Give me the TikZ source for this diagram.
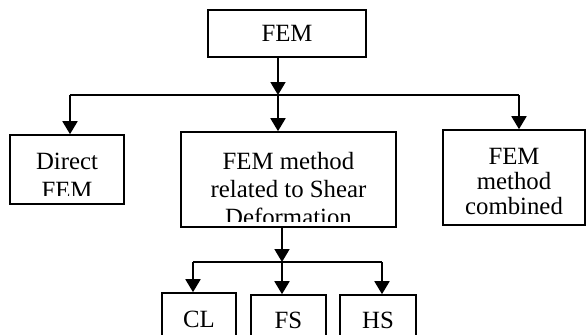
\documentclass[tikz,border=0pt]{standalone}
\usepackage{fontspec}
\setmainfont{Liberation Serif}
\usetikzlibrary{arrows.meta}

\begin{document}
\begin{tikzpicture}[x=0.5pt, y=-0.5pt,
    box/.style={draw, line width=0.8pt, inner sep=0pt},
    txt/.style={align=center, inner sep=0pt, font=\fontsize{12.4}{13}\selectfont},
    link/.style={line width=0.9pt},
    arr/.style={link, -{Triangle[width=7.5pt, length=6.5pt]}}]
    \useasboundingbox (0,0) rectangle (586,334);
    \clip (0,0) rectangle (586,334);
    \node[box, txt, minimum width=79pt, minimum height=23.5pt] (fem) at (287,33.5) {FEM};
    \node[box, minimum width=57pt, minimum height=34.5pt] (direct) at (67,169.5) {};
    \node[box, minimum width=107.5pt, minimum height=47.5pt] (shear) at (288.5,179.5) {};
    \node[box, minimum width=71pt, minimum height=47.5pt] (comb) at (514,177.5) {};
    \node[box, txt, minimum width=37pt, minimum height=26pt] (cl) at (199,319) {CL};
    \node[box, txt, minimum width=37.5pt, minimum height=25pt] (fs) at (288.5,320) {FS};
    \node[box, txt, minimum width=38pt, minimum height=25pt] (hs) at (378,320) {HS};
    \begin{scope}
        \clip (10,135) rectangle (124,195);
        \node[txt, font=\fontsize{12.4}{14.5}\selectfont, anchor=north] (direct-t) at (67,153) {Direct\\FEM};
    \end{scope}
    \begin{scope}
        \clip (181,132) rectangle (396,221);
        \node[txt, font=\fontsize{12.4}{14}\selectfont, anchor=north] (shear-t) at (288.5,152) {FEM method\\related to Shear\\Deformation};
    \end{scope}
    \node[txt, font=\fontsize{12.4}{12.5}\selectfont, anchor=north] (comb-t) at (514,148) {FEM\\method\\combined};
    \coordinate (top) at (278,95);
    \coordinate (d) at (70,95);
    \coordinate (c) at (519,95);
    \coordinate (low) at (282,262);
    \coordinate (l1) at (193,262);
    \coordinate (l3) at (382,262);
    \draw[arr] (fem.south -| top) -- (top);
    \draw[link] (d) -- (c);
    \draw[arr] (d) -- (d |- direct.north);
    \draw[arr] (top) -- (top |- shear.north);
    \draw[arr] (c) -- (c |- comb.north);
    \draw[arr] (shear.south -| low) -- (low);
    \draw[link] (l1) -- (l3);
    \draw[arr] (l1) -- (l1 |- cl.north);
    \draw[arr] (low) -- (low |- fs.north);
    \draw[arr] (l3) -- (l3 |- hs.north);
\end{tikzpicture}
\end{document}
